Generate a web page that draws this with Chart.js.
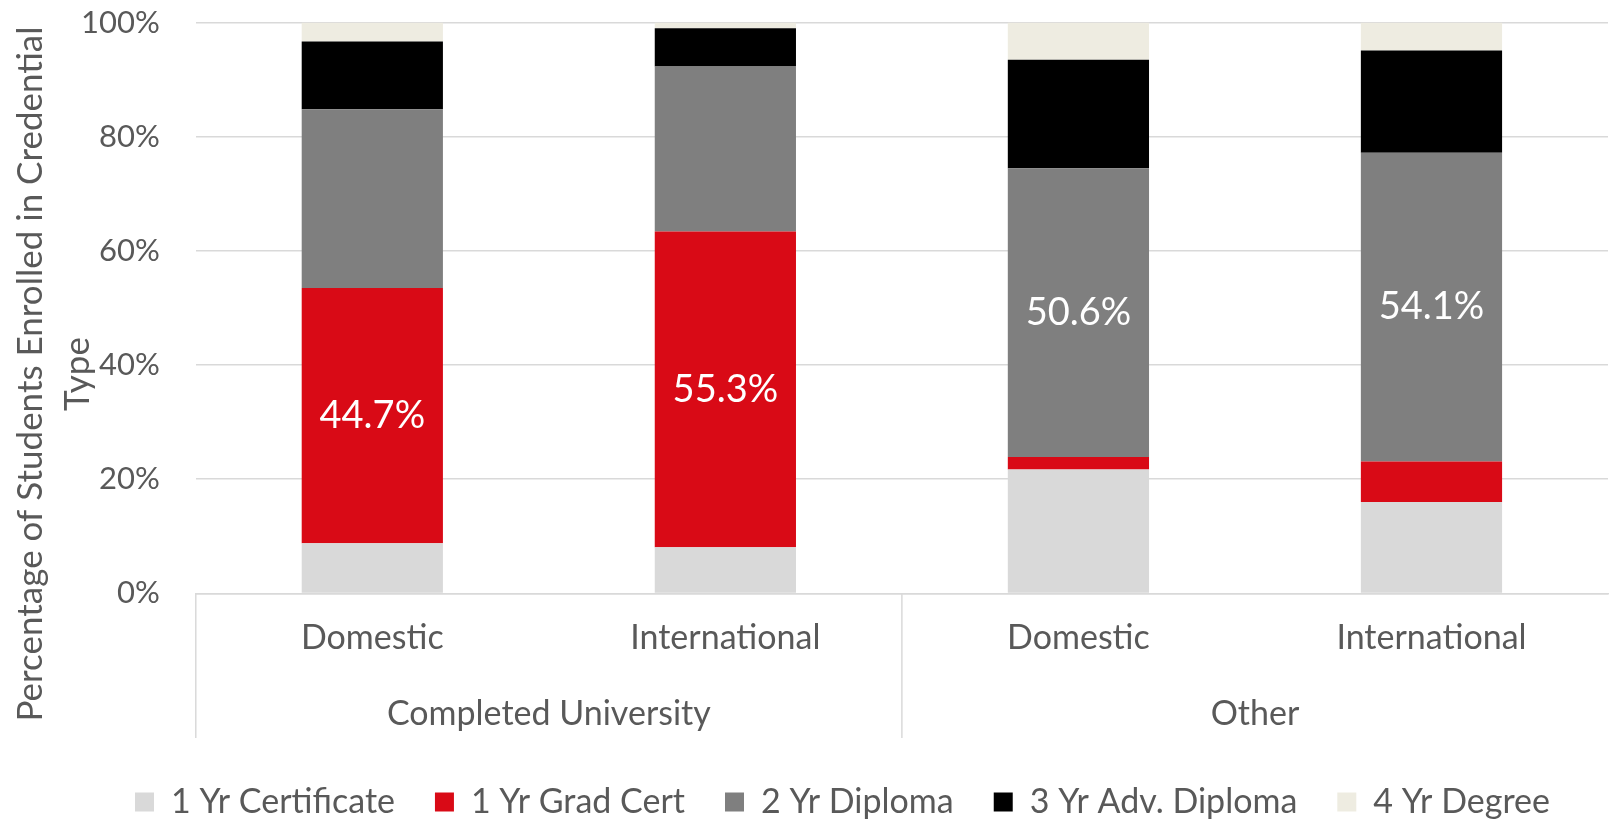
<!DOCTYPE html>
<html>
<head>
<meta charset="utf-8">
<script src="https://cdn.jsdelivr.net/npm/chart.js@4.4.1/dist/chart.umd.min.js"></script>
<style>
  html, body { margin: 0; padding: 0; background: #fff; }
  #wrap { width: 1610px; height: 823px; }
</style>
</head>
<body>
<div id="wrap"><canvas id="myChart" width="1610" height="823"></canvas></div>
<script>
// categories (two-level x axis)
const categories = ['Domestic', 'International', 'Domestic', 'International'];
const groups = ['Completed University', 'Other'];

// series values, % of students in each credential type
const cert1yr = [8.8, 8.1, 21.7, 16.0];
const gradCert1yr = [44.7, 55.3, 2.2, 7.1];
const diploma2yr = [31.3, 28.9, 50.6, 54.1];
const advDiploma3yr = [11.9, 6.7, 19.0, 17.9];
const degree4yr = [3.3, 1.0, 6.5, 4.9];

const yTicks = [0, 20, 40, 60, 80, 100];

// which segments carry a value label: [datasetIndex, categoryIndex]
const labelledSegments = [[1, 0], [1, 1], [2, 2], [2, 3]];

const textColor = '#595959';
const gridColor = '#d9d9d9';
const fontFamily = 'Lato, "Open Sans", sans-serif';

const data = {
    labels: categories,
    datasets: [
        { label: '1 Yr Certificate', data: cert1yr, backgroundColor: '#d9d9d9' },
        { label: '1 Yr Grad Cert', data: gradCert1yr, backgroundColor: '#d90a16' },
        { label: '2 Yr Diploma', data: diploma2yr, backgroundColor: '#7f7f7f' },
        { label: '3 Yr Adv. Diploma', data: advDiploma3yr, backgroundColor: '#000000' },
        { label: '4 Yr Degree', data: degree4yr, backgroundColor: '#eeece1' }
    ]
};

// value labels in the middle of some segments
const segmentLabels = {
    id: 'segmentLabels',
    afterDatasetsDraw(chart) {
        const ctx = chart.ctx;
        ctx.save();
        ctx.fillStyle = '#ffffff';
        ctx.font = '38px ' + fontFamily;
        ctx.textAlign = 'center';
        ctx.textBaseline = 'middle';
        labelledSegments.forEach(([d, i]) => {
            const bar = chart.getDatasetMeta(d).data[i];
            const v = chart.data.datasets[d].data[i];
            ctx.fillText(v.toFixed(1) + '%', bar.x, (bar.y + bar.base) / 2);
        });
        ctx.restore();
    }
};

// group separators under the axis and the y axis title
const axisExtras = {
    id: 'axisExtras',
    afterDraw(chart) {
        const ctx = chart.ctx;
        const x = chart.scales.x;
        const x2 = chart.scales.x2;
        const area = chart.chartArea;
        const mid = (x.getPixelForValue(1) + x.getPixelForValue(2)) / 2;
        ctx.save();
        ctx.strokeStyle = gridColor;
        ctx.lineWidth = 1.5;
        [x.left, mid].forEach(px => {
            ctx.beginPath();
            ctx.moveTo(px, area.bottom);
            ctx.lineTo(px, x2.bottom - 7);
            ctx.stroke();
        });

        ctx.fillStyle = textColor;
        ctx.font = '35px ' + fontFamily;
        ctx.textAlign = 'center';
        ctx.textBaseline = 'middle';
        ctx.translate(31, 374);
        ctx.rotate(-Math.PI / 2);
        ctx.fillText('Percentage of Students Enrolled in Credential', 0, 0);
        ctx.fillText('Type', 0, 47);
        ctx.restore();
    }
};

const config = {
    type: 'bar',
    data: data,
    options: {
        responsive: false,
        animation: false,
        layout: { padding: { left: 77, right: 2, top: 0, bottom: -6 } },
        datasets: {
            bar: { categoryPercentage: 1, barPercentage: 0.4 }
        },
        scales: {
            x: {
                stacked: true,
                grid: { display: false, drawTicks: false },
                border: { display: true, color: gridColor, width: 1.5 },
                afterFit(scale) {
                    scale.height += 9;
                },
                ticks: {
                    color: textColor,
                    font: { family: fontFamily, size: 34 },
                    padding: 24,
                    maxRotation: 0
                }
            },
            x2: {
                type: 'category',
                labels: groups,
                position: 'bottom',
                offset: true,
                grid: { display: false, drawTicks: false },
                border: { display: false },
                afterFit(scale) {
                    scale.height += 9;
                },
                ticks: {
                    color: textColor,
                    font: { family: fontFamily, size: 34 },
                    padding: 2,
                    maxRotation: 0
                }
            },
            y: {
                stacked: true,
                min: 0,
                max: 100,
                afterBuildTicks(scale) {
                    scale.ticks = yTicks.map(v => ({ value: v }));
                },
                grid: { color: gridColor, lineWidth: 1.5, drawTicks: true, tickLength: 32, tickColor: 'rgba(0,0,0,0)' },
                border: { display: false },
                ticks: {
                    color: textColor,
                    font: { family: fontFamily, size: 31 },
                    padding: 4,
                    callback: v => v + '%'
                }
            }
        },
        plugins: {
            legend: {
                position: 'bottom',
                labels: {
                    color: textColor,
                    font: { family: fontFamily, size: 34 },
                    boxWidth: 19,
                    boxHeight: 19,
                    padding: 40
                }
            },
            tooltip: { enabled: false }
        }
    },
    plugins: [segmentLabels, axisExtras]
};

new Chart(
    document.getElementById('myChart'),
    config
);
</script>
</body>
</html>
